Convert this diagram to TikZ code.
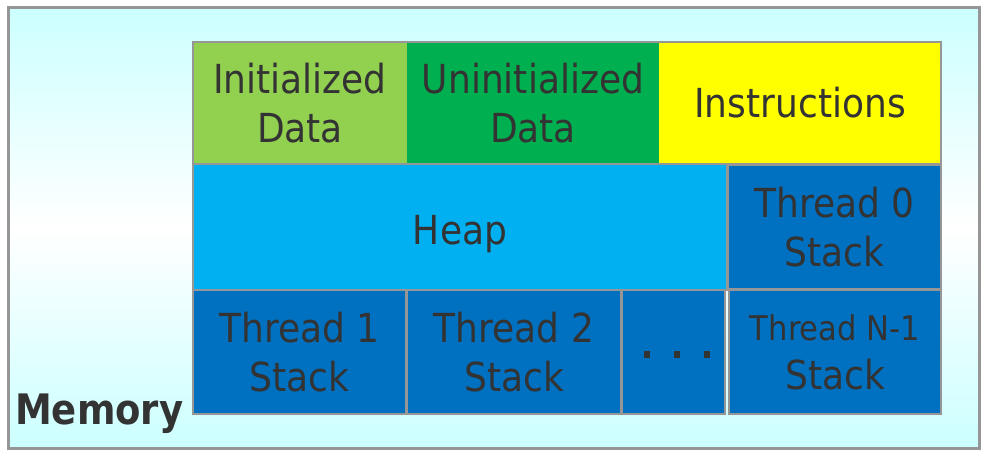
\documentclass[tikz,border=0pt]{standalone}
\usepackage{fontspec}
\setmainfont{DejaVu Sans}[FakeStretch=0.9]
\newfontfamily\memfont{DejaVu Sans Bold}[FakeStretch=0.88]
\definecolor{bgc}{RGB}{204,255,255}
\definecolor{framec}{RGB}{150,150,150}
\definecolor{txtc}{RGB}{51,51,51}
\definecolor{initc}{RGB}{146,208,80}
\definecolor{uninitc}{RGB}{0,176,80}
\definecolor{instrc}{RGB}{255,255,0}
\definecolor{heapc}{RGB}{0,176,240}
\definecolor{stackc}{RGB}{0,112,192}
\begin{document}
\begin{tikzpicture}[x=1pt,y=-1pt,
  seg/.style={rectangle, inner sep=0pt, text=txtc, align=center,
    font=\fontsize{40}{49}\selectfont},
  cell/.style={seg, draw=framec, line width=2pt}]
\useasboundingbox (0,0) rectangle (982,452);
\shade[top color=bgc, bottom color=bgc, middle color=white] (8,8) rectangle (979,448);
\draw[framec, line width=3pt] (8,8) rectangle (979,448);
% top row
\node[seg, fill=initc, minimum width=214pt, minimum height=122pt] (init) at (300,103) {Initialized\\Data};
\node[seg, fill=uninitc, minimum width=252pt, minimum height=122pt] (uninit) at (533,103) {Uninitialized\\Data};
\node[seg, fill=instrc, minimum width=282pt, minimum height=122pt] (instr) at (800,103) {Instructions};
\draw[framec, line width=2pt] (init.north west) rectangle (instr.south east);
% middle row
\node[cell, fill=heapc, minimum width=534pt, minimum height=126pt, text height=35pt, text depth=0pt] (heap) at (460,227) {Heap};
\node[cell, fill=stackc, minimum width=213pt, minimum height=124pt] (t0) at (834.5,227) {Thread 0\\Stack};
% bottom row
\node[cell, fill=stackc, minimum width=213pt, minimum height=124pt] (t1) at (299.5,352) {Thread 1\\Stack};
\node[cell, fill=stackc, minimum width=214pt, minimum height=124pt] (t2) at (514,352) {Thread 2\\Stack};
\node[cell, fill=stackc, minimum width=103pt, minimum height=124pt] (dots) at (673.5,352) {};
\foreach \dx in {-30,0,30}
  \fill[txtc] ([xshift=\dx pt, yshift=1pt]dots.center) rectangle +(6.5pt,-6.5pt);
\node[cell, fill=stackc, minimum width=212pt, minimum height=124pt] (tn) at (835,352) {{\fontsize{34}{45}\selectfont Thread N-1}\\Stack};
\node[anchor=base west, inner sep=0pt, text=txtc, font=\memfont\fontsize{42}{48}\selectfont] (mem) at (15,424) {Memory};
\end{tikzpicture}
\end{document}
